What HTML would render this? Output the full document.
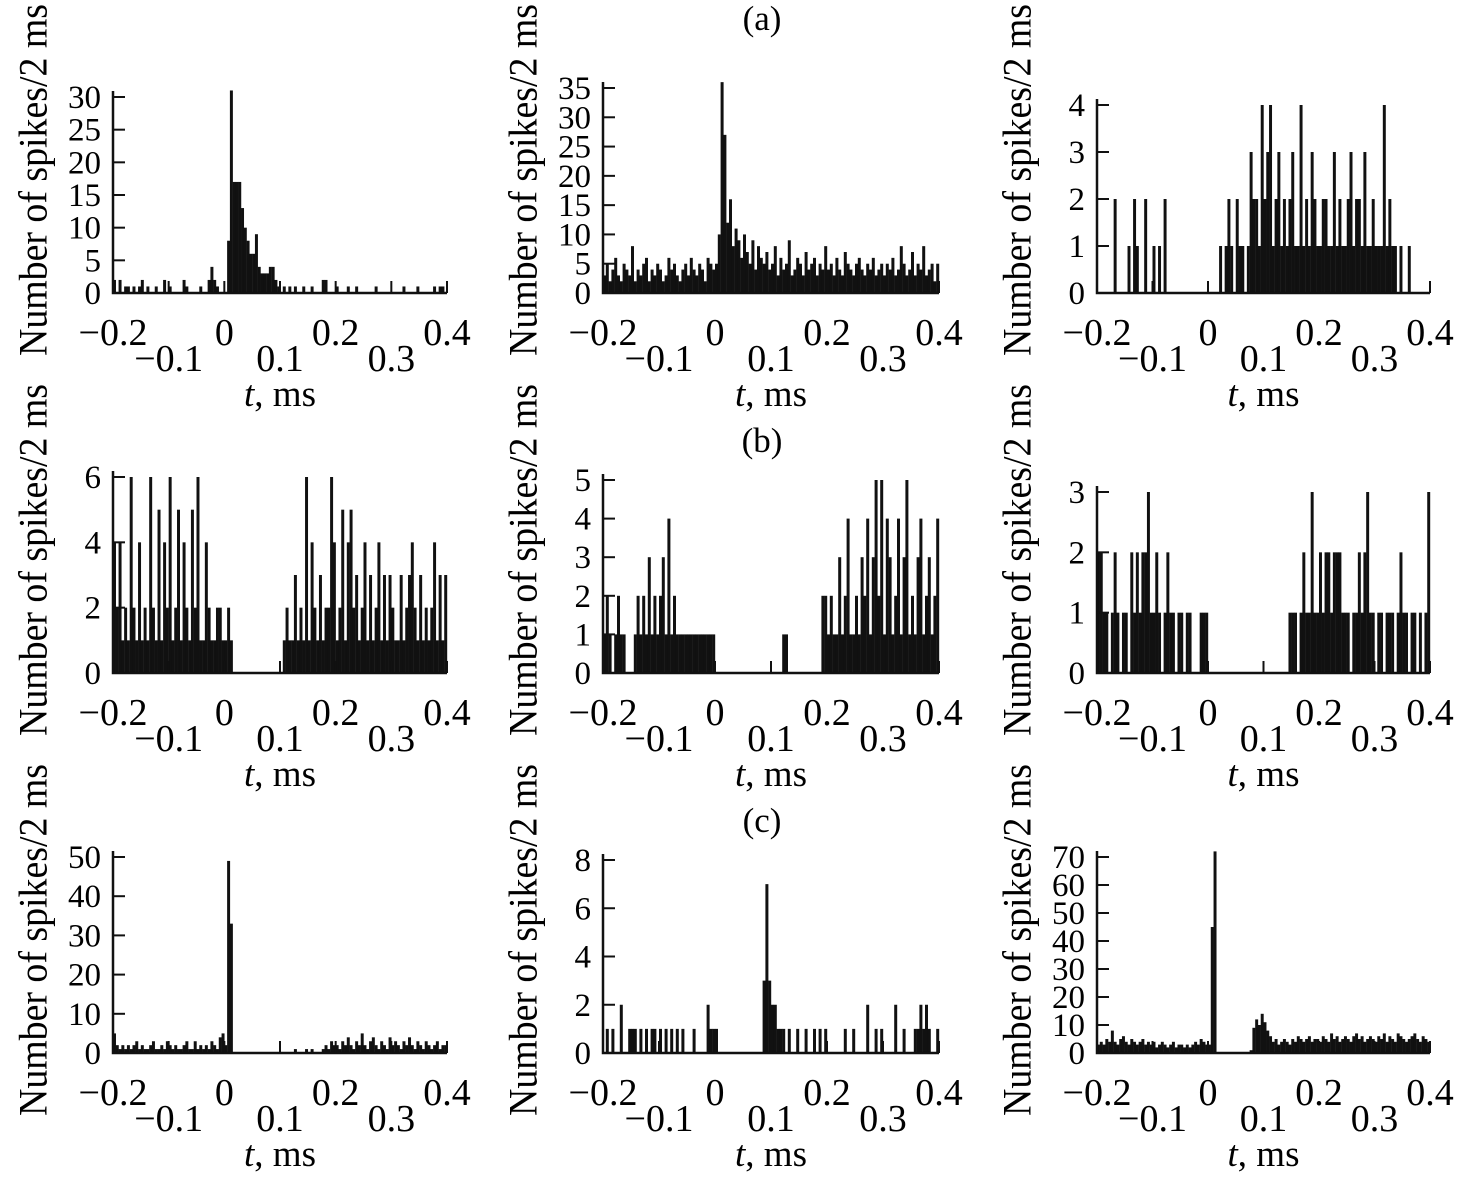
<!DOCTYPE html>
<html><head><meta charset="utf-8">
<style>
html,body{margin:0;padding:0;background:#fff;}
svg{display:block;font-family:"Liberation Serif",serif;}
</style></head>
<body>
<svg id="fig" width="1459" height="1183" viewBox="0 0 1459 1183" xmlns="http://www.w3.org/2000/svg">
<text x="762" y="30" font-size="35" text-anchor="middle">(a)</text>
<text x="762" y="452" font-size="35" text-anchor="middle">(b)</text>
<text x="762" y="832" font-size="35" text-anchor="middle">(c)</text>
</svg>
<script>
const xTickVals = [-0.2, -0.1, 0, 0.1, 0.2, 0.3, 0.4];
const xTickLabels = ["\u22120.2", "\u22120.1", "0", "0.1", "0.2", "0.3", "0.4"];
const xMin = -0.2, xMax = 0.4;

const a1 = [2,0,2,0,1,1,0,1,0,1,2,0,1,0,0,1,0,0,2,0,1,0,0,0,0,2,1,0,0,0,0,1,0,0,2,4,2,1,0,0, 0,8,31,17,17,17,13,10,8,6,6,9,4,3,3,3,4,4,2,1, 0,1,0,1,0,1,0,0,1,0,0,1,0,0,0,2,2,0,0,0, 1,0,0,0,1,0,0,1,0,0,0,0,0,0,1,0,0,0,0,0, 0,0,0,0,1,0,0,0,0,1,0,0,0,0,0,1,0,1,1,0];
const a2 = [3,5,2,4,6,3,2,5,4,3,8,2,4,3,5,6,2,4,3,5,4,2,3,6,4,5,3,2,4,5,3,6,4,3,5,4,2,6,5,4, 5,10,36,27,12,16,8,11,9,6,10,7,5,9,4,8,6,5,7,4, 5,8,3,6,4,5,9,3,4,6,5,3,7,4,5,6,3,5,4,8, 4,5,3,6,4,3,7,5,4,3,5,6,4,3,5,4,6,3,4,5, 3,5,4,6,3,4,8,5,3,4,7,3,5,4,8,3,4,5,2,5];
const a3 = [0,0,0,0,0,0,2,0,0,0,0,1,0,2,1,0,0,2,0,0,1,0,1,0,2,0,0,0,0,0,0,0,0,0,0,0,0,0,0,0, 0,0,0,0,1,0,1,2,1,0,2,1,1,0,1,3,2,2,1,4, 2,3,4,1,2,3,1,2,1,2,3,1,1,4,1,2,1,3,2,1, 1,2,2,1,1,3,1,2,1,1,2,3,1,2,2,1,3,1,1,2, 1,1,1,4,1,2,1,1,0,1,0,0,1,0,0,0,0,0,0,0];
const b1 = [4,2,4,1,2,1,6,2,1,4,1,2,1,6,2,1,5,1,4,2,6,1,2,5,1,4,2,1,5,2,6,1,1,4,2,1,1,2,2,1, 1,2,1,0,0,0,0,0,0,0,0,0,0,0,0,0,0,0,0,0, 0,1,2,1,1,3,1,2,1,6,1,4,2,1,3,1,2,2,6,4, 1,2,5,1,4,5,2,3,1,2,4,1,3,1,2,4,1,3,1,3, 2,1,1,3,1,2,3,4,2,1,3,1,2,1,2,4,1,3,1,3];
const b2 = [1,2,1,0,1,2,1,1,0,0,0,1,2,1,2,1,3,1,2,1,2,3,1,4,1,2,1,1,1,1,1,1,1,1,1,1,1,1,1,1, 0,0,0,0,0,0,0,0,0,0,0,0,0,0,0,0,0,0,0,0, 0,0,0,0,1,1,0,0,0,0,0,0,0,0,0,0,0,0,2,2, 1,2,1,1,3,1,2,4,1,1,2,1,3,2,4,1,3,5,2,5, 1,4,3,1,2,4,1,3,5,1,2,1,3,4,1,2,3,1,2,4];
const b3 = [2,2,1,1,0,1,2,1,0,1,1,0,2,1,2,1,2,2,3,1,1,2,1,0,1,2,1,1,0,1,1,0,1,1,0,0,0,1,1,1, 0,0,0,0,0,0,0,0,0,0,0,0,0,0,0,0,0,0,0,0, 0,0,0,0,0,0,0,0,0,1,1,1,0,1,2,1,1,3,1,1, 2,1,2,2,1,2,2,2,1,1,1,0,1,1,2,1,2,3,1,1, 0,1,1,0,1,1,1,0,1,2,1,1,0,1,1,0,1,0,1,3];
const c1 = [5,2,1,2,1,2,1,2,3,1,2,1,1,2,3,1,1,2,1,3,2,1,2,1,1,2,3,1,1,3,1,2,1,2,1,3,2,1,4,5, 2,49,33,0,0,0,0,0,0,0,0,0,0,0,0,0,0,0,0,0, 0,0,0,0,0,1,0,0,0,1,0,1,0,0,0,1,2,1,3,2, 2,1,3,2,4,2,1,3,2,5,2,1,3,4,2,1,3,2,1,4, 2,3,2,1,3,2,4,2,1,3,2,1,3,2,1,2,3,1,2,2];
const c2 = [0,1,0,1,0,0,2,0,0,1,1,1,0,1,0,1,0,1,1,0,1,0,1,0,1,0,1,0,1,0,0,0,1,0,0,0,0,2,1,1, 1,0,0,0,0,0,0,0,0,0,0,0,0,0,0,0,0,3,7,3, 2,2,1,1,1,0,1,0,0,1,0,0,1,0,0,1,0,1,0,1, 0,0,0,0,0,0,1,0,0,1,0,0,0,0,2,0,0,1,0,1, 0,0,0,0,2,0,0,1,0,0,0,1,1,2,1,2,1,0,0,1];
const c3 = [3,4,3,5,4,8,4,3,5,6,4,3,5,4,3,4,5,3,4,3,4,2,3,4,3,2,3,4,2,3,3,2,3,2,3,4,3,5,4,3, 3,45,72,0,0,0,0,0,0,0,0,0,0,0,0,1,9,12,10,14, 11,8,6,4,5,3,4,5,4,3,5,4,6,5,4,5,6,4,5,5, 4,6,5,4,7,5,6,4,5,6,5,4,6,7,5,6,4,5,6,5, 4,6,5,7,4,6,5,4,7,6,5,4,5,6,7,5,4,6,5,4];

const yTicksA1 = [0,5,10,15,20,25,30];
const yTicksA2 = [0,5,10,15,20,25,30,35];
const yTicksA3 = [0,1,2,3,4];
const yTicksB1 = [0,2,4,6];
const yTicksB2 = [0,1,2,3,4,5];
const yTicksB3 = [0,1,2,3];
const yTicksC1 = [0,10,20,30,40,50];
const yTicksC2 = [0,2,4,6,8];
const yTicksC3 = [0,10,20,30,40,50,60,70];

const cols = [[113,447],[603,939],[1097,1430]];
const rows = [293,673,1053];
const panels = [
  {name:'a1', data:a1, ticks:yTicksA1, c:0, r:0, topY:97},
  {name:'a2', data:a2, ticks:yTicksA2, c:1, r:0, topY:88},
  {name:'a3', data:a3, ticks:yTicksA3, c:2, r:0, topY:105},
  {name:'b1', data:b1, ticks:yTicksB1, c:0, r:1, topY:477},
  {name:'b2', data:b2, ticks:yTicksB2, c:1, r:1, topY:480},
  {name:'b3', data:b3, ticks:yTicksB3, c:2, r:1, topY:492},
  {name:'c1', data:c1, ticks:yTicksC1, c:0, r:2, topY:857},
  {name:'c2', data:c2, ticks:yTicksC2, c:1, r:2, topY:860},
  {name:'c3', data:c3, ticks:yTicksC3, c:2, r:2, topY:857}
];
const NS = 'http://www.w3.org/2000/svg';
const svg = document.getElementById('fig');
function mk(tag, attrs, parent){ const e=document.createElementNS(NS,tag); for(const k in attrs) e.setAttribute(k,attrs[k]); (parent||svg).appendChild(e); return e; }

panels.forEach(p=>{
  const [x0,x1] = cols[p.c];
  const base = rows[p.r];
  const topVal = p.ticks[p.ticks.length-1];
  const xs = v => x0 + (v - xMin)/(xMax - xMin)*(x1-x0);
  const ys = v => base - v/topVal*(base - p.topY);
  const g = mk('g',{});
  
  
  const n = p.data.length, bw = (xMax-xMin)/n;
  p.data.forEach((v,i)=>{
    if(v<=0) return;
    const xa = xs(xMin + i*bw), xb = xs(xMin + (i+1)*bw);
    const b = mk('rect',{x:xa, y:ys(v), width:Math.max(1.5,xb-xa+0.2), height:base-ys(v), fill:'#111'}, g);
    
    
  });
  const ax = mk('path',{d:`M${x0},${p.topY-6}V${base}H${x1}`, stroke:'#111', 'stroke-width':2.5, fill:'none'}, g);
  
  
  p.ticks.forEach(t=>{
    const y = ys(t);
    mk('line',{x1:x0, x2:x0+12, y1:y, y2:y, stroke:'#111','stroke-width':2}, g);
    const tl = mk('text',{x:x0-12, y:y+11, 'font-size':33, 'text-anchor':'end'}, g);
    tl.textContent = t;
    
    
  });
  xTickVals.forEach((t,i)=>{
    const x = xs(t);
    mk('line',{x1:x, x2:x, y1:base, y2:base-12, stroke:'#111','stroke-width':2}, g);
    const lower = (i%2===1);
    const tl = mk('text',{x:x, y:base + (lower?78:52), 'font-size':38, 'text-anchor':'middle'}, g);
    tl.textContent = xTickLabels[i];
    
    
  });
  const xl = mk('text',{x:(x0+x1)/2, y:base+113, 'font-size':37, 'text-anchor':'middle'}, g);
  xl.innerHTML = '<tspan font-style="italic">t</tspan>, ms';
  
  
  const cx = x0 - 80, cy = base - 113;
  const yl = mk('text',{x:cx, y:cy, 'font-size':40, 'text-anchor':'middle', 'dominant-baseline':'central', textLength:352, lengthAdjust:'spacingAndGlyphs', transform:`rotate(-90 ${cx} ${cy})`}, g);
  yl.textContent = 'Number of spikes/2 ms';
  
  
});
</script>
</body></html>
